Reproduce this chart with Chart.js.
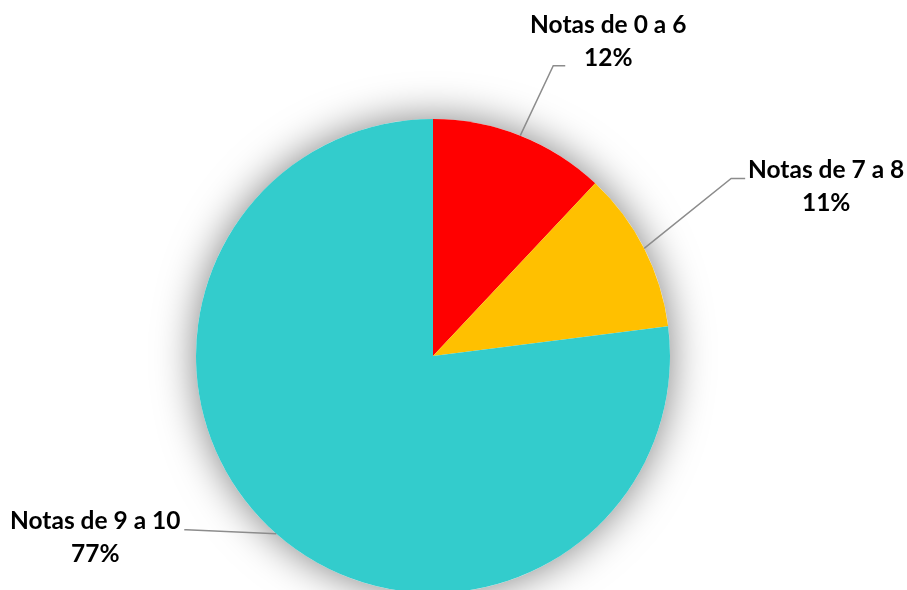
<!DOCTYPE html>
<html>
<head>
<meta charset="utf-8">
<script src="https://cdn.jsdelivr.net/npm/chart.js@4"></script>
<style>
	html, body { margin: 0; padding: 0; background: #fff; overflow: hidden; }
	#wrap { width: 907px; height: 600px; }
</style>
</head>
<body>
<div id="wrap"><canvas id="chart"></canvas></div>
<script>
"use strict";

// Data

var categories = ["Notas de 0 a 6", "Notas de 7 a 8", "Notas de 9 a 10"],
	percentages = [12, 11, 77],
	sliceColors = ["#FF0000", "#FFC000", "#33CCCC"];

// Label layout: elbow offset from the slice anchor, then text offset from the elbow

var LABEL_LAYOUT = [
	{ elbow: [33, -70], tail: 12, text: [55, -33] },
	{ elbow: [87, -70], tail: 14, text: [95, 0] },
	{ elbow: [-90, -4], tail: -2, text: [-91, -1] }
];

var FONT = "bold 24.5px Lato",
	LINE_HEIGHT = 33;

// Plugins

// soft grey glow behind the pie
var shadowPlugin = {
	id: "pieShadow",
	beforeDatasetsDraw: function (chart) {
		var arc = chart.getDatasetMeta(0).data[0], ctx = chart.ctx;

		ctx.save();
		ctx.shadowColor = "rgba(0, 0, 0, 0.5)";
		ctx.shadowBlur = 40;
		ctx.fillStyle = "#ffffff";
		ctx.beginPath();
		ctx.arc(arc.x, arc.y, arc.outerRadius, 0, Math.PI * 2);
		ctx.fill();
		ctx.restore();
	}
};

// category name + percentage with a grey leader line
var labelPlugin = {
	id: "leaderLabels",
	afterDatasetsDraw: function (chart) {
		var ctx = chart.ctx, meta = chart.getDatasetMeta(0);

		ctx.save();
		for (var i = 0; i < meta.data.length; i++) {
			var arc = meta.data[i], layout = LABEL_LAYOUT[i],
				mid = (arc.startAngle + arc.endAngle) / 2,
				ax = arc.x + arc.outerRadius * Math.cos(mid),
				ay = arc.y + arc.outerRadius * Math.sin(mid),
				ex = ax + layout.elbow[0],
				ey = ay + layout.elbow[1];

			ctx.strokeStyle = "#8c8c8c";
			ctx.lineWidth = 1.5;
			ctx.beginPath();
			ctx.moveTo(ax, ay);
			ctx.lineTo(ex, ey);
			ctx.lineTo(ex + layout.tail, ey);
			ctx.stroke();

			ctx.fillStyle = "#000000";
			ctx.font = FONT;
			ctx.textAlign = "center";
			ctx.textBaseline = "alphabetic";
			var tx = ex + layout.text[0], ty = ey + layout.text[1];
			ctx.fillText(categories[i], tx, ty);
			ctx.fillText(percentages[i] + "%", tx, ty + LINE_HEIGHT);
		}
		ctx.restore();
	}
};

// Chart

new Chart(document.getElementById("chart"), {
	type: "pie",
	data: {
		labels: categories,
		datasets: [{
			data: percentages,
			backgroundColor: sliceColors,
			borderWidth: 0
		}]
	},
	options: {
		responsive: true,
		maintainAspectRatio: false,
		animation: false,
		layout: { padding: { left: 196, right: 237, top: 119, bottom: 7 } },
		plugins: {
			legend: { display: false },
			tooltip: { enabled: false }
		}
	},
	plugins: [shadowPlugin, labelPlugin]
});
</script>
</body>
</html>
